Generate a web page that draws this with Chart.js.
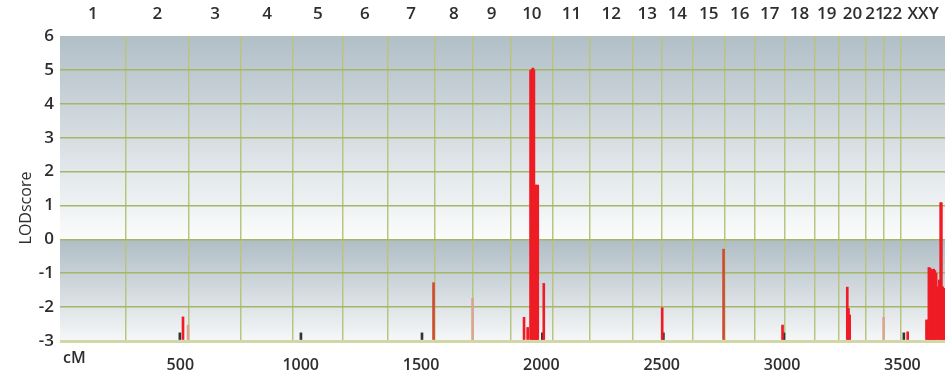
<!DOCTYPE html>
<html>
<head>
<meta charset="utf-8">
<script src="https://cdn.jsdelivr.net/npm/chart.js@4.4.1/dist/chart.umd.min.js"></script>
<style>
  html, body { margin: 0; padding: 0; background: #fff; }
</style>
</head>
<body>
<canvas id="lodChart" width="945" height="370"></canvas>
<script>
// chromosome boundaries (cM) and their labels
const chromBounds = [0, 274, 535, 753, 969, 1173, 1361, 1557, 1715, 1872, 2049, 2202, 2378, 2501, 2629, 2762, 2887, 3011, 3134, 3237, 3349, 3423, 3495, 3677];
const chromLabels = ['1', '2', '3', '4', '5', '6', '7', '8', '9', '10', '11', '12', '13', '14', '15', '16', '17', '18', '19', '20', '21', '22', 'XXY'];
const cmTicks = [500, 1000, 1500, 2000, 2500, 3000, 3500];

// red LOD bars
const redCM  = [511, 1928, 1943, 1955, 1960, 1965, 1969, 1975, 1980, 1985, 2010, 2502, 3002, 3271, 3276, 3281, 3522,
                3600, 3605, 3610, 3615, 3620, 3625, 3630, 3635, 3640, 3647, 3653, 3659, 3662, 3667, 3672, 3676];
const redLOD = [-2.29, -2.3, -2.6, 4.98, 5.02, 5.05, 5.0, 1.6, 1.6, 1.6, -1.3, -2.02, -2.53, -1.41, -2.04, -2.23, -2.73,
                -2.38, -2.38, -0.83, -0.85, -0.9, -0.9, -0.88, -0.92, -1.0, -1.4, -1.2, 1.08, 1.08, -1.4, -1.45, -1.45];

// brownish bars
const brownCM  = [1552, 2757];
const brownLOD = [-1.28, -0.29];

// tan bars
const tanCM  = [532, 1714, 3422];
const tanLOD = [-2.53, -1.74, -2.3];

// dark marker bars
const blackCM  = [498, 1001, 1504, 2004, 2507, 3008, 3506];
const blackLOD = [-2.76, -2.76, -2.76, -2.76, -2.76, -2.76, -2.76];

const toPoints = (xs, ys) => xs.map((x, i) => ({ x: x, y: ys[i] }));
const chromCenters = chromLabels.map((l, i) => (chromBounds[i] + chromBounds[i + 1]) / 2);

const textColor = '#2e2e2e';

const bandBackground = {
    id: 'bandBackground',
    beforeDraw(chart) {
        const ctx = chart.ctx;
        const a = chart.chartArea;
        const y = chart.scales.y;
        const y6 = y.getPixelForValue(6), y0 = y.getPixelForValue(0), ym3 = y.getPixelForValue(-3);
        let g = ctx.createLinearGradient(0, y6, 0, y0);
        g.addColorStop(0, '#b1bfc7');
        g.addColorStop(1, '#fbfcfc');
        ctx.save();
        ctx.fillStyle = g;
        ctx.fillRect(a.left, y6, a.right - a.left, y0 - y6);
        g = ctx.createLinearGradient(0, y0, 0, ym3);
        g.addColorStop(0, '#afbdc5');
        g.addColorStop(1, '#f6f7f8');
        ctx.fillStyle = g;
        ctx.fillRect(a.left, y0, a.right - a.left, ym3 - y0);
        ctx.restore();
    },
    afterDraw(chart) {
        const ctx = chart.ctx;
        ctx.save();
        ctx.fillStyle = textColor;
        ctx.font = '600 16px "Open Sans"';
        ctx.textAlign = 'left';
        ctx.textBaseline = 'middle';
        ctx.fillText('cM', 63, 358);
        ctx.font = '16px "Open Sans"';
        ctx.translate(26, 208);
        ctx.rotate(-Math.PI / 2);
        ctx.textAlign = 'center';
        ctx.fillText('LODscore', 0, 0);
        ctx.restore();
    }
};

const barDefaults = { barThickness: 2, grouped: false, base: -3, borderWidth: 0 };

new Chart(document.getElementById('lodChart'), {
    type: 'bar',
    data: {
        datasets: [
            Object.assign({ label: 'tan', data: toPoints(tanCM, tanLOD), backgroundColor: '#dba48e' }, barDefaults),
            Object.assign({ label: 'brown', data: toPoints(brownCM, brownLOD), backgroundColor: '#cf4b32' }, barDefaults),
            Object.assign({ label: 'LOD', data: toPoints(redCM, redLOD), backgroundColor: '#ee1c25' }, barDefaults),
            Object.assign({ label: 'marker', data: toPoints(blackCM, blackLOD), backgroundColor: '#333333' }, barDefaults)
        ]
    },
    options: {
        responsive: false,
        animation: false,
        layout: { padding: 0 },
        plugins: { legend: { display: false }, tooltip: { enabled: false } },
        scales: {
            x: {
                type: 'linear', position: 'bottom', min: 0, max: 3677, offset: false,
                afterBuildTicks: axis => { axis.ticks = cmTicks.map(v => ({ value: v })); },
                afterFit: scale => { scale.height = 29; },
                grid: { display: false, offset: false },
                border: { display: false },
                ticks: { color: textColor, padding: 7, maxRotation: 0, autoSkip: false,
                         callback: v => String(v),
                         font: { family: 'Open Sans', size: 16, weight: '600' } }
            },
            xGrid: {
                type: 'linear', position: 'bottom', min: 0, max: 3677, z: 1, offset: false,
                afterBuildTicks: axis => { axis.ticks = chromBounds.slice(1, -1).map(v => ({ value: v })); },
                afterFit: scale => { scale.height = 0; },
                grid: { color: '#b9c57f', lineWidth: 1.5, drawTicks: false, offset: false },
                border: { display: false },
                ticks: { display: false }
            },
            xTop: {
                type: 'linear', position: 'top', min: 0, max: 3677, offset: false,
                afterBuildTicks: axis => { axis.ticks = chromCenters.map(v => ({ value: v })); },
                afterFit: scale => { scale.height = 36; },
                grid: { display: false, offset: false },
                border: { display: false },
                ticks: { color: textColor, padding: 4, maxRotation: 0, minRotation: 0, autoSkip: false,
                         callback: (v, i) => chromLabels[i],
                         font: { family: 'Open Sans', size: 17, weight: '600' } }
            },
            y: {
                min: -3, max: 6, z: 1,
                afterFit: scale => { scale.width = 60; },
                grid: {
                    drawTicks: false,
                    color: c => c.tick.value === 6 ? 'rgba(0,0,0,0)' : (c.tick.value === -3 ? '#d3d7a8' : '#a6b669'),
                    lineWidth: c => c.tick.value === -3 ? 3 : 1.5
                },
                border: { display: false },
                ticks: { stepSize: 1, color: textColor, padding: 6,
                         font: { family: 'Open Sans', size: 17, weight: '600' } }
            }
        }
    },
    plugins: [bandBackground]
});
</script>
</body>
</html>
